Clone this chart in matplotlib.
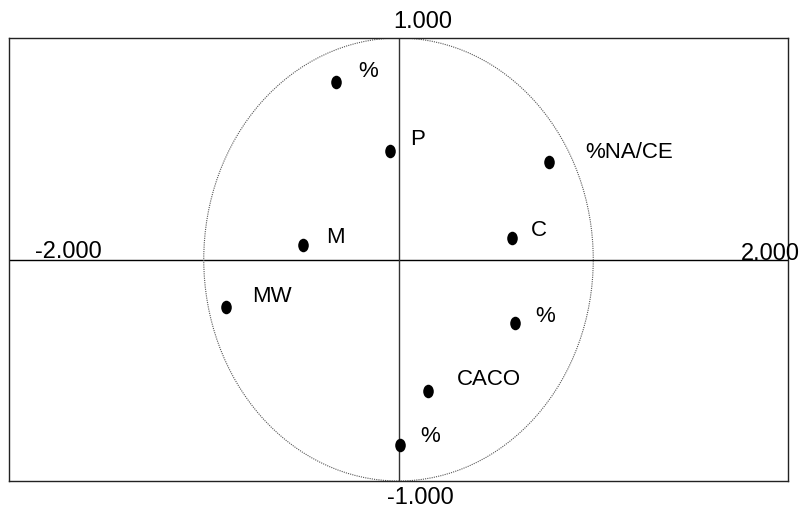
import matplotlib
matplotlib.use("Agg")
import matplotlib.pyplot as plt
from matplotlib.patches import Ellipse
from matplotlib.path import Path
from matplotlib.transforms import Affine2D

plt.rcParams['font.family'] = ['Liberation Sans', 'DejaVu Sans']

labels = ["%", "P", "%NA/CE", "M", "C", "MW", "%", "CACO", "%"]
x_vals = [-0.321, -0.044, 0.773, -0.490, 0.583, -0.886, 0.598, 0.151, 0.008]
y_vals = [0.801, 0.490, 0.440, 0.065, 0.097, -0.214, -0.287, -0.594, -0.838]
# label offsets in pixels (right, up) from each point
label_dx = [22, 20, 36, 23, 19, 26, 20, 29, 20]
label_dy = [11, 11, 10, 8, 8, 10, 7, 12, 9]

xlim = (-2.0, 2.0)
ylim = (-1.0, 1.0)
axis_labels = {"left": "-2.000", "right": "2.000", "top": "1.000", "bottom": "-1.000"}

fig = plt.figure(figsize=(8.05, 5.12), dpi=100)
ax = fig.add_axes([9/805, 31/512, 779/805, 443/512])
ax.set_xlim(*xlim)
ax.set_ylim(*ylim)
ax.set_xticks([])
ax.set_yticks([])
for s in ax.spines.values():
    s.set_color('#222222')
    s.set_linewidth(1.0)

ax.axhline(0, color='black', lw=1.0, zorder=1)
ax.axvline(0, color='#333333', lw=1.0, zorder=1)

circ = Ellipse((0, 0), 2, 2, fill=False, linestyle=(0, (1, 1)), lw=0.8,
               edgecolor='#555555', zorder=1)
ax.add_patch(circ)

marker = Path.unit_circle().transformed(Affine2D().scale(0.78, 1.0))
ax.scatter(x_vals, y_vals, marker=marker, s=95, color='black', zorder=3,
           linewidths=0)

for lab, x, y, dx, dy in zip(labels, x_vals, y_vals, label_dx, label_dy):
    ax.annotate(lab, (x, y), xytext=(dx, dy), textcoords='offset pixels',
                ha='left', va='center', fontsize=16, color='black')

# axis end labels
ax.annotate(axis_labels["left"], (xlim[0], 0), xytext=(26, 1),
            textcoords='offset pixels', ha='left', va='baseline', fontsize=17,
            annotation_clip=False)
ax.annotate(axis_labels["right"], (xlim[1], 0), xytext=(12, 0),
            textcoords='offset pixels', ha='right', va='baseline', fontsize=17,
            annotation_clip=False)
ax.annotate(axis_labels["top"], (0, ylim[1]), xytext=(-5, 5),
            textcoords='offset pixels', ha='left', va='bottom', fontsize=17,
            annotation_clip=False)
ax.annotate(axis_labels["bottom"], (0, ylim[0]), xytext=(-12, -6),
            textcoords='offset pixels', ha='left', va='top', fontsize=17,
            annotation_clip=False)

fig.savefig("out.png", dpi=100)
